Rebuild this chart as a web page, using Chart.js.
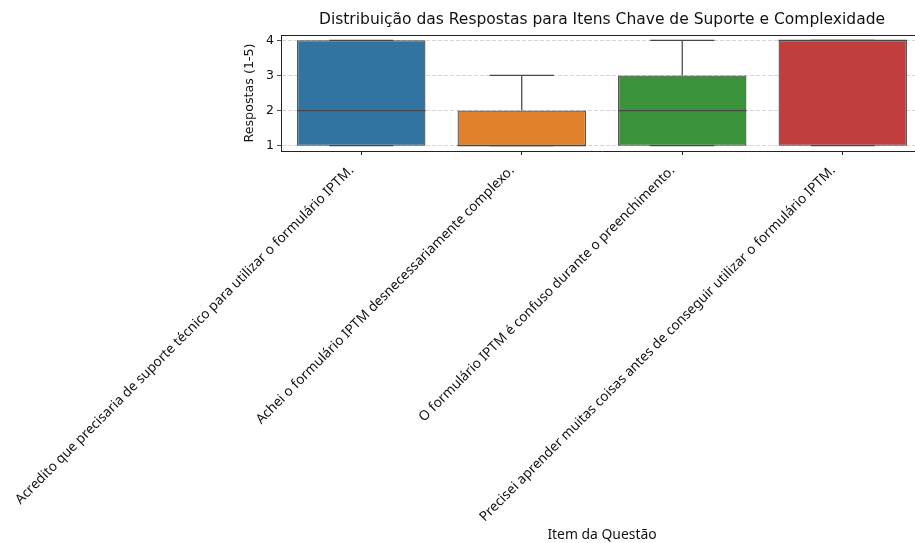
<!DOCTYPE html>
<html>
<head>
<meta charset="utf-8">
<script src="https://cdn.jsdelivr.net/npm/chart.js@4"></script>
<style>
  html, body { margin: 0; padding: 0; background: #fff; overflow: hidden; }
</style>
</head>
<body>
<canvas id="chart" width="923" height="543"></canvas>
<script>
// ---- data ----
const categories = [
  'Acredito que precisaria de suporte técnico para utilizar o formulário IPTM.',
  'Achei o formulário IPTM desnecessariamente complexo.',
  'O formulário IPTM é confuso durante o preenchimento.',
  'Precisei aprender muitas coisas antes de conseguir utilizar o formulário IPTM.'
]
const q1          = [1, 1, 1, 1]
const medians     = [2, 1, 2, 4]
const q3          = [4, 2, 3, 4]
const whiskerLow  = [1, 1, 1, 1]
const whiskerHigh = [4, 3, 4, 4]
const yTicks      = [1, 2, 3, 4]

const boxColors = ['#3274a1', '#e1812c', '#3a923a', '#c03d3e']
const lineColor = '#474747'
const titleText = 'Distribuição das Respostas para Itens Chave de Suporte e Complexidade'
const FONT  = '"DejaVu Sans", sans-serif'
const LFONT = '"Noto Sans", sans-serif'

// whiskers, caps, medians, top spine, rotated category labels and title
const boxExtras = {
  id: 'boxExtras',
  afterDatasetsDraw(chart) {
    const { ctx, chartArea: a, scales: { x, y } } = chart
    const bars = chart.getDatasetMeta(0).data
    const seg = (x0, y0, x1, y1) => { ctx.beginPath(); ctx.moveTo(x0, y0); ctx.lineTo(x1, y1); ctx.stroke() }

    ctx.save()
    ctx.strokeStyle = lineColor
    ctx.lineWidth = 1.25
    categories.forEach((_, i) => {
      const cx   = x.getPixelForValue(i)
      const half = bars[i].width / 2
      const cap  = half / 2
      const yHi = y.getPixelForValue(whiskerHigh[i])
      const yLo = y.getPixelForValue(whiskerLow[i])
      seg(cx, y.getPixelForValue(q3[i]), cx, yHi)
      seg(cx, y.getPixelForValue(q1[i]), cx, yLo)
      seg(cx - cap, yHi, cx + cap, yHi)
      seg(cx - cap, yLo, cx + cap, yLo)
      const ym = y.getPixelForValue(medians[i])
      seg(cx - half, ym, cx + half, ym)
    })

    ctx.strokeStyle = '#222'
    ctx.lineWidth = 1
    seg(a.left, a.top + 0.5, a.right, a.top + 0.5)

    // category labels, rotated 45°, right end hanging just under the tick
    ctx.fillStyle = '#111'
    ctx.font = '13.6px ' + LFONT
    ctx.textAlign = 'right'
    ctx.textBaseline = 'alphabetic'
    categories.forEach((label, i) => {
      ctx.save()
      ctx.translate(x.getPixelForValue(i) - 7, a.bottom + 20)
      ctx.rotate(-Math.PI / 4)
      ctx.fillText(label, 0, 0)
      ctx.restore()
    })

    ctx.font = '15.5px ' + FONT
    ctx.textAlign = 'center'
    ctx.textBaseline = 'middle'
    ctx.fillText(titleText, (a.left + a.right) / 2, 20)
    ctx.restore()
  }
}

new Chart(document.getElementById('chart'), {
  type: 'bar',
  data: {
    labels: categories,
    datasets: [{
      data: categories.map((_, i) => [q1[i], q3[i]]),
      backgroundColor: boxColors,
      borderColor: lineColor,
      borderWidth: 1.25,
      borderSkipped: false,
      barPercentage: 0.8,
      categoryPercentage: 1.0,
    }]
  },
  options: {
    responsive: false,
    animation: false,
    layout: { padding: { left: 236, top: 35, right: 0, bottom: 0 } },
    plugins: { legend: { display: false }, tooltip: { enabled: false } },
    scales: {
      x: {
        type: 'category',
        offset: true,
        grid: { offset: false, drawOnChartArea: false, drawTicks: true, tickLength: 4, color: '#222' },
        border: { color: '#222', width: 1 },
        ticks: { display: false },
        title: {
          display: true, text: 'Item da Questão', color: '#111',
          font: { family: LFONT, size: 13.9 }, padding: { top: 0, bottom: 0 }
        },
        afterFit(scale) {
          scale.height = 543 - 151
          scale.paddingLeft = 0
          scale.paddingRight = 0
        }
      },
      y: {
        min: 0.85,
        max: 4.15,
        afterBuildTicks(scale) { scale.ticks = yTicks.map(v => ({ value: v })) },
        grid: { color: '#cccccc', lineWidth: 0.8, tickLength: 4, tickColor: '#222', tickBorderDash: [] },
        border: { color: '#222', width: 1, dash: [4, 2] },
        ticks: { padding: 3, color: '#111', font: { family: FONT, size: 12.5 } },
        title: {
          display: true, text: 'Respostas (1-5)', color: '#111',
          font: { family: FONT, size: 12.7 }, padding: { top: 6, bottom: 0 }
        },
        afterFit(scale) { scale.width = 281 - 236 }
      }
    }
  },
  plugins: [boxExtras]
})
</script>
</body>
</html>
